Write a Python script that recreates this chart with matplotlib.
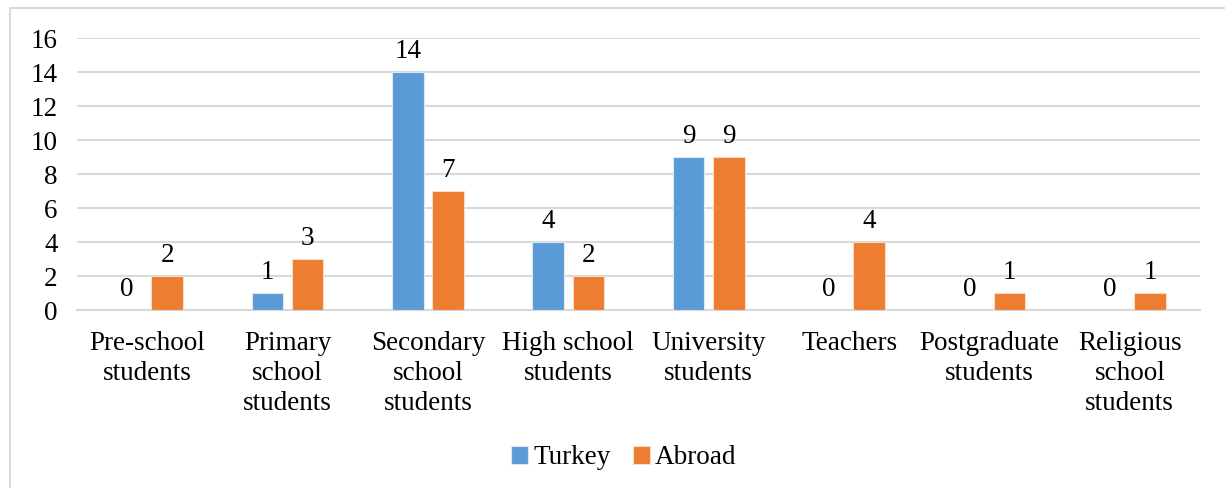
import numpy as np
import matplotlib
matplotlib.use("Agg")
import matplotlib.pyplot as plt
from matplotlib.patches import Rectangle

categories = ["Pre-school\nstudents", "Primary\nschool\nstudents", "Secondary\nschool\nstudents",
              "High school\nstudents", "University\nstudents", "Teachers",
              "Postgraduate\nstudents", "Religious\nschool\nstudents"]
turkey = [0, 1, 14, 4, 9, 0, 0, 0]
abroad = [2, 3, 7, 2, 9, 4, 1, 1]
yticks = [0, 2, 4, 6, 8, 10, 12, 14, 16]

BLUE, ORANGE, GRID = "#5B9BD5", "#ED7D31", "#D9D9D9"
FS = 19.5
plt.rcParams["font.family"] = ["Liberation Serif", "DejaVu Serif"]

fig = plt.figure(figsize=(12.25, 4.88), dpi=100)
fig.patches.append(Rectangle((10 / 1225, -0.05), 1.1, 1 - 8 / 488 + 0.05, transform=fig.transFigure,
                             fill=False, edgecolor=GRID, lw=1.5))
ax = fig.add_axes([77 / 1225, 1 - 310 / 488, (1200 - 77) / 1225, (310 - 38) / 488])

x = np.arange(len(categories))
off, w = 0.143, 0.225
b1 = ax.bar(x - off, turkey, w, color=BLUE, edgecolor="#DCE9F5", lw=0.8, label="Turkey", zorder=3)
b2 = ax.bar(x + off, abroad, w, color=ORANGE, edgecolor="#F9DCC8", lw=0.8, label="Abroad", zorder=3)
ax.bar_label(b1, padding=6, fontsize=FS)
ax.bar_label(b2, padding=6, fontsize=FS)

ax.set_xlim(-0.5, len(categories) - 0.5)
ax.set_ylim(0, 16)
ax.set_yticks(yticks)
ax.yaxis.grid(True, color=GRID, lw=1.5, zorder=0)
ax.set_xticks(x)
ax.set_xticklabels(categories, fontsize=FS, linespacing=1.28)
ax.tick_params(axis="y", labelsize=FS, length=0, pad=14)
ax.tick_params(axis="x", length=0, pad=15)
for s in ["top", "right", "left"]:
    ax.spines[s].set_visible(False)
ax.spines["bottom"].set_color(GRID)
ax.spines["bottom"].set_linewidth(1.5)

fig.legend(handles=[b1, b2], loc="center", bbox_to_anchor=(624 / 1225, 1 - 458 / 488), ncol=2,
           frameon=False, fontsize=FS, handlelength=0.6, handleheight=0.6, handletextpad=0.2,
           columnspacing=0.85)

fig.savefig("out.png", dpi=100)
